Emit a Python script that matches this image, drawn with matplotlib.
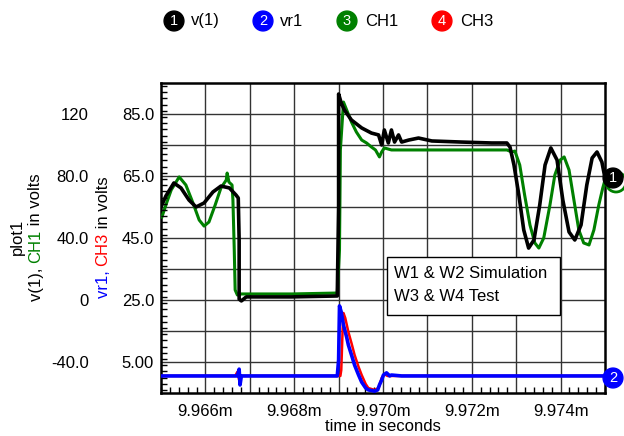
import numpy as np
import matplotlib
matplotlib.use('Agg')
import matplotlib.pyplot as plt
from matplotlib.ticker import FuncFormatter, MultipleLocator
from matplotlib.patches import Rectangle, Ellipse

plt.rcParams['font.family'] = ['Liberation Sans', 'DejaVu Sans']
plt.rcParams['font.size'] = 12

# time origin of the window, seconds; traces are given as offsets in microseconds
T0 = 9.965e-3

# v(1) simulation (left / outer axis, volts)
v1_us = [0.02, 0.11, 0.29, 0.45, 0.63, 0.79, 0.97, 1.17, 1.35, 1.54, 1.69, 1.74, 1.76, 1.76,
         1.81, 1.92, 2.94, 3.97, 4.00, 4.00, 4.06, 4.13, 4.29, 4.52, 4.74, 4.90, 4.97, 5.03,
         5.12, 5.19, 5.26, 5.35, 5.42, 5.58, 5.80, 6.10, 6.77, 7.45, 7.79, 7.86, 7.95, 8.06,
         8.17, 8.28, 8.40, 8.53, 8.65, 8.78, 8.92, 9.05, 9.19, 9.32, 9.46, 9.59, 9.71, 9.82,
         9.93, 10.0]
v1_v = [61.3, 67.1, 75.5, 72.3, 64.5, 60.0, 62.6, 69.7, 73.5, 72.3, 67.7, 65.8, 38.7, 0.6,
        -0.6, 2.0, 2.0, 2.6, 60.0, 132.9, 127.1, 122.6, 116.1, 111.0, 107.7, 106.5, 100.0, 109.7,
        101.3, 109.7, 101.9, 106.5, 101.9, 103.2, 104.5, 102.6, 101.9, 101.3, 101.3, 98.7, 87.1, 67.7,
        45.2, 33.5, 38.7, 61.3, 87.1, 98.1, 90.3, 64.5, 43.9, 38.7, 48.4, 74.2, 91.6, 95.5,
        89.0, 78.7]

# CH1 measurement (left / outer axis, volts)
ch1_us = [0.02, 0.11, 0.23, 0.41, 0.56, 0.72, 0.86, 0.97, 1.08, 1.22, 1.35, 1.47, 1.49, 1.53,
          1.60, 1.62, 1.65, 1.67, 1.72, 1.81, 2.94, 3.97, 4.02, 4.04, 4.11, 4.20, 4.29, 4.40,
          4.52, 4.63, 4.74, 4.83, 4.92, 4.97, 5.03, 5.19, 5.87, 6.77, 7.79, 7.90, 7.97, 8.08,
          8.19, 8.31, 8.42, 8.51, 8.62, 8.76, 8.87, 8.99, 9.08, 9.19, 9.30, 9.41, 9.52, 9.64,
          9.75, 9.86, 9.95, 10.0]
ch1_v = [53.5, 61.3, 71.0, 79.4, 74.2, 62.6, 51.6, 47.7, 50.3, 61.3, 72.3, 77.4, 81.9, 76.1,
         74.2, 64.5, 32.3, 6.5, 3.2, 3.9, 3.9, 4.5, 32.3, 96.8, 127.7, 121.3, 114.8, 108.4,
         103.2, 101.3, 98.7, 96.8, 92.3, 95.5, 98.1, 96.8, 96.8, 96.8, 96.8, 95.5, 96.1, 87.1,
         67.7, 48.4, 36.8, 33.5, 40.0, 61.3, 80.6, 90.3, 92.3, 83.9, 64.5, 45.2, 36.8, 35.5,
         45.2, 61.3, 72.3, 77.4]

# vr1 simulation (inner axis, volts)
vr1_us = [0.0, 1.72, 1.76, 1.78, 1.81, 3.97, 4.00, 4.02, 4.06, 4.11, 4.18, 4.22, 4.29, 4.36,
          4.45, 4.52, 4.61, 4.67, 4.81, 4.88, 4.92, 4.97, 5.01, 5.08, 5.15, 5.19, 5.42, 10.0]
vr1_v = [0.5, 0.5, 2.7, -2.4, 0.5, 0.5, 5.7, 23.1, 21.1, 16.9, 13.1, 10.5, 7.3, 4.0,
         0.8, -1.5, -3.4, -4.0, -4.4, -4.0, -2.4, -0.8, 0.8, 1.5, 0.5, 0.8, 0.5, 0.5]

# CH3 measurement (inner axis, volts)
ch3_us = [0.0, 1.67, 1.72, 1.76, 1.81, 4.04, 4.06, 4.09, 4.11, 4.15, 4.22, 4.29, 4.36, 4.45,
          4.52, 4.61, 4.67, 4.81, 4.90, 4.97, 5.03, 5.10, 10.0]
ch3_v = [0.5, 0.5, 1.8, -0.8, 0.5, 0.5, 2.4, 15.3, 20.8, 19.2, 14.7, 11.1, 7.3, 3.4,
         0.8, -2.1, -3.4, -4.0, -3.4, -0.2, 1.1, 0.5, 0.5]

left_ticks = [-40, -20, 0, 20, 40, 60, 80, 100, 120]
left_labels = ['-40.0', '', '0', '', '40.0', '', '80.0', '', '120']
inner_ticks = [5, 25, 45, 65, 85]
inner_labels = ['5.00', '25.0', '45.0', '65.0', '85.0']
x_ticks_us = [1, 2, 3, 4, 5, 6, 7, 8, 9]

W, H = 624, 436
fig = plt.figure(figsize=(W / 100, H / 100), dpi=100)
rect = [161 / W, 1 - 393 / H, (605 - 161) / W, (393 - 83) / H]
ax = fig.add_axes(rect)

def t(us):
    return T0 + np.array(us) * 1e-6

ax.plot(t(ch1_us), ch1_v, color='#008000', lw=2.2, zorder=3)
ax.plot(t(v1_us), v1_v, color='black', lw=2.6, zorder=4)
ax.set_xlim(T0, T0 + 10e-6)
ax.set_ylim(-60, 140)
ax.set_yticks(left_ticks)
ax.set_yticklabels(left_labels)
ax.tick_params(axis='y', which='both', length=0, pad=52)
ax.set_xticks(t(x_ticks_us))
ax.xaxis.set_major_formatter(FuncFormatter(
    lambda x, _: f"{x * 1e3:.3f}m" if round((x - T0) * 1e6) % 2 == 1 else ''))
ax.tick_params(axis='x', which='major', length=0, pad=8)
ax.grid(True, which='major', color='#333333', lw=1)
ax.set_xlabel('time in seconds', labelpad=0)
for s in ax.spines.values():
    s.set_linewidth(1.8)

# inner axis for vr1 / CH3, drawn on its own transparent axes
ax2 = fig.add_axes(rect, frameon=False)
ax2.patch.set_visible(False)
ax2.plot(t(ch3_us), ch3_v, color='red', lw=1.8)
ax2.plot(t(vr1_us), vr1_v, color='blue', lw=2.6)
ax2.set_xlim(T0, T0 + 10e-6)
ax2.set_ylim(-5, 95)
ax2.set_xticks(t(x_ticks_us))
ax2.set_xticklabels([])
ax2.xaxis.set_minor_locator(MultipleLocator(0.2e-6))
ax2.tick_params(axis='x', which='major', length=0)
ax2.tick_params(axis='x', which='minor', direction='in', length=4, width=1)
ax2.set_yticks(inner_ticks)
ax2.set_yticklabels(inner_labels)
ax2.yaxis.set_minor_locator(MultipleLocator(2))
ax2.tick_params(axis='y', which='major', direction='in', length=0, pad=5)
ax2.tick_params(axis='y', which='minor', direction='in', length=4, width=1)

# text box
fig.add_artist(Rectangle((387 / W, 1 - 315 / H), (560 - 387) / W, (315 - 257) / H,
                         transform=fig.transFigure, fc='white', ec='black', lw=1, zorder=5))
fig.text(394 / W, 1 - 274 / H, 'W1 & W2 Simulation', va='center', zorder=6)
fig.text(394 / W, 1 - 296 / H, 'W3 & W4 Test', va='center', zorder=6)

# legend row
def badge(x, y, num, color, zorder=7):
    fig.text(x / W, 1 - y / H, num, color='white', fontsize=10.5, ha='center', va='center',
             zorder=zorder, bbox=dict(boxstyle='circle,pad=0.2', fc=color, ec=color))

legend = [('1', 'v(1)', 'black', 174, 191), ('2', 'vr1', 'blue', 263, 280),
          ('3', 'CH1', '#008000', 347, 365), ('4', 'CH3', 'red', 442, 460)]
for num, name, col, cx, tx in legend:
    badge(cx, 21, num, col)
    fig.text(tx / W, 1 - 21 / H, name, va='center', ha='left')

# trace end markers (green ring for CH1 peeks out under the v(1) badge)
fig.add_artist(Ellipse((616 / W, 1 - 182 / H), 20 / W, 20 / H, transform=fig.transFigure,
                       fc='white', ec='#008000', lw=2, zorder=6))
badge(613, 178, '1', 'black')
badge(613, 378, '2', 'blue')

# vertical multi-colour axis titles
fig.canvas.draw()
r = fig.canvas.get_renderer()

def vlabel(x, yc, parts):
    texts = [fig.text(x / W, 0, s, color=c, rotation=90, ha='center', va='bottom')
             for s, c in parts]
    hs = [tt.get_window_extent(r).height for tt in texts]
    y = (H - yc) - sum(hs) / 2
    for tt, h in zip(texts, hs):
        tt.set_position((x / W, y / H))
        y += h

vlabel(17, 237, [('plot1', 'black')])
vlabel(36, 237, [('v(1), ', 'black'), ('CH1', '#008000'), (' in volts', 'black')])
vlabel(103, 237, [('vr1, ', 'blue'), ('CH3', 'red'), (' in volts', 'black')])

fig.savefig('out.png', dpi=100)
